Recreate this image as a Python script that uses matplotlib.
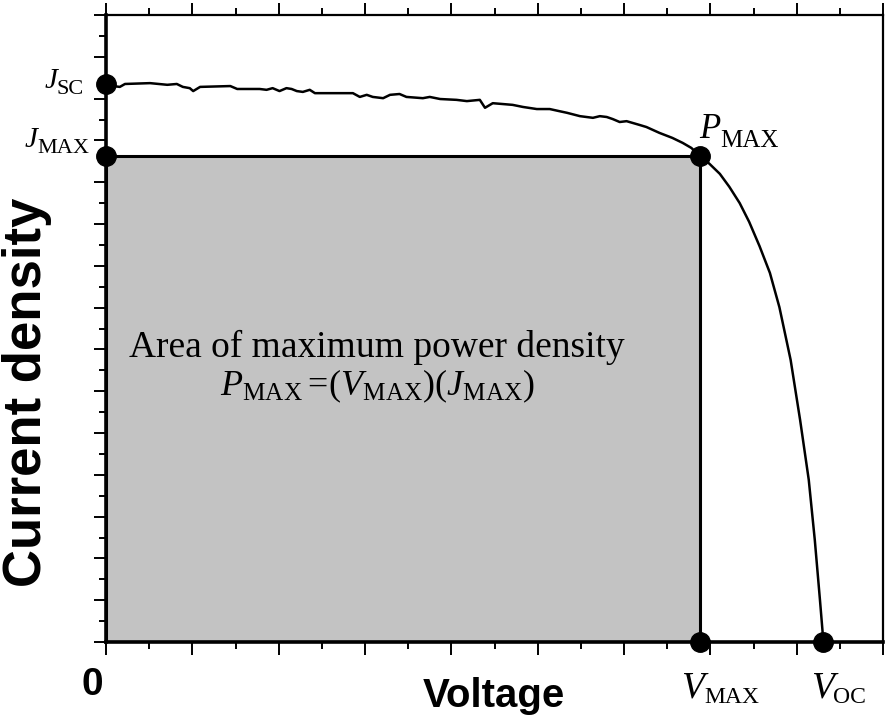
import matplotlib.pyplot as plt
from matplotlib.patches import Rectangle
from matplotlib.ticker import MultipleLocator, NullFormatter

plt.rcParams['mathtext.fontset'] = 'custom'
plt.rcParams['mathtext.rm'] = 'Liberation Serif'
plt.rcParams['mathtext.it'] = 'Liberation Serif:italic'

# J-V curve of the cell
voltage = [0.000, 0.008, 0.016, 0.022, 0.051, 0.071, 0.082, 0.089, 0.097, 0.101,
           0.109, 0.144, 0.152, 0.167, 0.178, 0.186, 0.193, 0.201, 0.209, 0.215,
           0.221, 0.228, 0.236, 0.242, 0.263, 0.279, 0.286, 0.294, 0.302, 0.309,
           0.321, 0.329, 0.340, 0.348, 0.367, 0.375, 0.387, 0.406, 0.418, 0.433,
           0.439, 0.448, 0.471, 0.483, 0.499, 0.514, 0.525, 0.534, 0.549, 0.564,
           0.572, 0.580, 0.587, 0.595, 0.603, 0.618, 0.626, 0.641, 0.656, 0.668,
           0.678, 0.688, 0.699, 0.711, 0.722, 0.734, 0.745, 0.757, 0.769, 0.780,
           0.793, 0.804, 0.814, 0.821, 0.827, 0.831]
current = [1.335, 1.330, 1.328, 1.335, 1.337, 1.333, 1.335, 1.328, 1.325, 1.318,
           1.328, 1.330, 1.323, 1.323, 1.323, 1.321, 1.325, 1.318, 1.325, 1.323,
           1.318, 1.316, 1.321, 1.313, 1.313, 1.313, 1.313, 1.304, 1.309, 1.304,
           1.301, 1.309, 1.311, 1.304, 1.301, 1.304, 1.299, 1.297, 1.294, 1.297,
           1.278, 1.289, 1.285, 1.280, 1.275, 1.275, 1.270, 1.266, 1.258, 1.254,
           1.258, 1.256, 1.251, 1.244, 1.246, 1.237, 1.232, 1.218, 1.206, 1.194,
           1.182, 1.163, 1.144, 1.120, 1.089, 1.050, 1.005, 0.947, 0.883, 0.801,
           0.675, 0.531, 0.388, 0.244, 0.100, 0.000]

j_sc = 1.335
j_max = 1.163
v_max = 0.688
v_oc = 0.831

fig = plt.figure(figsize=(8.87, 7.17), dpi=100)
ax = fig.add_axes([106 / 887, 1 - 642 / 717, 777 / 887, 627 / 717])
ax.set_xlim(0, 0.9)
ax.set_ylim(0, 1.5)

# shaded maximum power rectangle
ax.add_patch(Rectangle((0, 0), v_max, j_max, facecolor='#c3c3c3',
                       edgecolor='black', linewidth=2.2, zorder=2))
ax.plot(voltage, current, color='black', linewidth=1.8, zorder=3)

dots_x = [0, 0, v_max, v_max, v_oc]
dots_y = [j_sc, j_max, j_max, 0, 0]
ax.plot(dots_x, dots_y, 'o', color='black', markersize=14, clip_on=False, zorder=5)

for side in ['left', 'bottom']:
    ax.spines[side].set_linewidth(2.6)
for side in ['top', 'right']:
    ax.spines[side].set_linewidth(1.6)

ax.xaxis.set_major_locator(MultipleLocator(0.1))
ax.xaxis.set_minor_locator(MultipleLocator(0.05))
ax.yaxis.set_major_locator(MultipleLocator(0.1))
ax.yaxis.set_minor_locator(MultipleLocator(0.05))
ax.xaxis.set_major_formatter(NullFormatter())
ax.yaxis.set_major_formatter(NullFormatter())
ax.tick_params(which='both', direction='out', top=True, bottom=True,
               left=True, right=False, width=1.4)
ax.tick_params(which='major', length=9)
ax.tick_params(which='minor', length=5)


def corner_label(x, y, main, sub, dx, dy_main, dy_sub, s_main, s_sub):
    ax.annotate(main, (x, y), xytext=(dx, dy_main), textcoords='offset pixels',
                ha='right', va='baseline', fontsize=s_main, fontstyle='italic',
                family='Liberation Serif', annotation_clip=False)
    ax.annotate(sub, (x, y), xytext=(dx, dy_sub), textcoords='offset pixels',
                ha='left', va='baseline', fontsize=s_sub,
                family='Liberation Serif', annotation_clip=False)


corner_label(0, j_sc, 'J', 'SC', -49, -4, -10, 21, 16)
corner_label(0, j_max, 'J', 'MAX', -69, 9, 3, 21, 16)
corner_label(v_max, j_max, 'P', 'MAX', 20, 18, 9, 25, 18)
corner_label(v_max, 0, 'V', 'MAX', 4, -55, -61, 27, 17)
corner_label(v_oc, 0, 'V', 'OC', 10, -55, -61, 27, 17)

ax.text(0.314, 0.682, 'Area of maximum power density', ha='center',
        va='baseline', fontsize=27, family='Liberation Serif', zorder=4)
ax.text(0.314, 0.589,
        r'$P_{\mathrm{MAX}}=\!(V_{\mathrm{MAX}})(J_{\mathrm{MAX}})$',
        ha='center', va='baseline', fontsize=26, zorder=4)

ax.annotate('0', (0, 0), xytext=(-14, -53), textcoords='offset pixels',
            ha='center', va='baseline', fontsize=28, fontweight='bold',
            family='Liberation Sans', annotation_clip=False)
fig.text(494 / 887, 1 - 707 / 717, 'Voltage', ha='center', va='baseline',
         fontsize=29, fontweight='bold', family='Liberation Sans')
fig.text(27 / 887, 1 - 392 / 717, 'Current density', ha='center', va='center',
         rotation=90, fontsize=38, fontweight='bold', family='Liberation Sans')

fig.savefig('out.png', dpi=100)
